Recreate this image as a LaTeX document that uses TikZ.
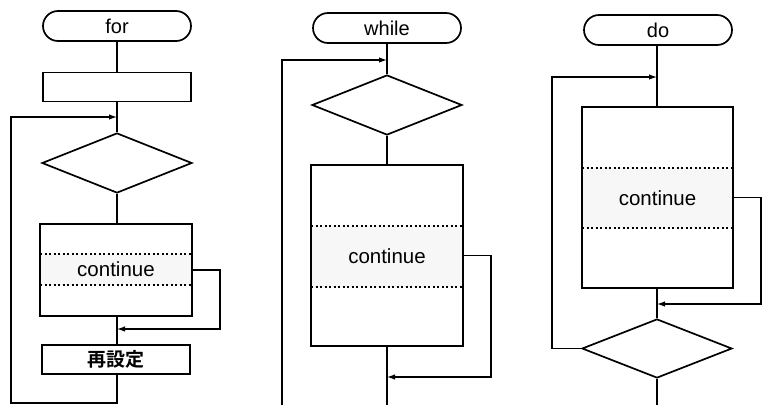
\documentclass[tikz,border=0pt]{standalone}
\usepackage{fontspec}
\setmainfont{Liberation Sans}
\newfontfamily\jpfont{Noto Sans CJK JP Bold}
\usetikzlibrary{shapes.geometric,arrows.meta}
\begin{document}
\begin{tikzpicture}[x=1pt,y=-1pt,
  shp/.style={draw,line width=1.7pt,inner sep=0pt},
  term/.style={shp,rounded corners=15pt,minimum width=148pt,minimum height=30pt,font=\fontsize{20}{20}\selectfont},
  proc/.style={shp,minimum width=148pt,minimum height=29pt},
  dec/.style={shp,diamond,minimum width=150pt,minimum height=60pt},
  body/.style={shp,minimum width=152pt,minimum height=181pt},
  con/.style={line width=1.2pt},
  arr/.style={con,-{Latex[length=8pt,width=5.5pt]}},
  dots/.style={line width=1.2pt,dash pattern=on 2pt off 2.5pt},
  band/.style={fill=gray!6,draw=none},
  lbl/.style={font=\fontsize{20.5}{20.5}\selectfont}
]
\fill[white] (0,0) rectangle (762,405);
\useasboundingbox (0,0) rectangle (762,405);

% ---------- for ----------
\fill[band] (40,254) rectangle (192,285);
\draw[dots] (40,254) -- (192,254);
\draw[dots] (40,285) -- (192,285);
\node[term] (fT) at (117,26) {for};
\node[proc] (fI) at (117,87) {};
\node[dec] (fD) at (117,163) {};
\node[shp,minimum width=152pt,minimum height=92pt] (fB) at (116,270) {};
\node[lbl] (fCt) at (116,269.5) {continue};
\node[proc,font=\jpfont\fontsize{19}{19}\selectfont] (fR) at (116,359.5) {再設定};
\coordinate (fJ) at (117,117);
\coordinate (fC) at (117,329);
\coordinate (fCr) at (220,300);
\coordinate (fL) at (11,250);
\coordinate (fE) at (117,403);
\draw[con] (fT.south) -- (fI.north);
\draw[con] (fI.south) -- (fD.north);
\draw[con] (fD.south) -- (fB.north -| fJ);
\draw[con] (fB.south -| fJ) -- (fR.north -| fJ);
\draw[arr] (fB.east) -| (fCr) |- (fC);
\draw[arr] (fR.south -| fE) -- (fE) -| (fL) |- (fJ);

% ---------- while ----------
\fill[band] (311,226) rectangle (463,287);
\draw[dots] (311,226) -- (463,226);
\draw[dots] (311,287) -- (463,287);
\node[term] (wT) at (387,28) {while};
\node[dec] (wD) at (387,105) {};
\node[body] (wB) at (387,255.5) {};
\node[lbl] (wCt) at (387,256.5) {continue};
\coordinate (wJ) at (387,60);
\coordinate (wC) at (387,377);
\coordinate (wCr) at (491,300);
\coordinate (wS) at (282,405);
\coordinate (wE) at (387,405);
\draw[con] (wT.south) -- (wD.north);
\draw[con] (wD.south) -- (wB.north);
\draw[con] (wB.south) -- (wE);
\draw[arr] (wB.east) -| (wCr) |- (wC);
\draw[arr] (wS) |- (wJ);

% ---------- do ----------
\fill[band] (582,168) rectangle (733,228);
\draw[dots] (582,168) -- (733,168);
\draw[dots] (582,228) -- (733,228);
\node[term] (dT) at (658,30) {do};
\node[body,minimum width=151pt] (dB) at (657.5,197.5) {};
\node[lbl] (dCt) at (657.5,198) {continue};
\node[dec,minimum height=59pt] (dD) at (657,348.5) {};
\coordinate (dJ) at (657,77);
\coordinate (dC) at (657,304);
\coordinate (dCr) at (761,250);
\coordinate (dCl) at (552,200);
\coordinate (dE) at (657,405);
\draw[con] (dT.south -| dJ) -- (dB.north -| dJ);
\draw[con] (dB.south -| dJ) -- (dD.north);
\draw[arr] (dB.east) -| (dCr) |- (dC);
\draw[arr] (dD.west) -| (dCl) |- (dJ);
\draw[con] (dD.south) -- (dE);
\end{tikzpicture}
\end{document}
